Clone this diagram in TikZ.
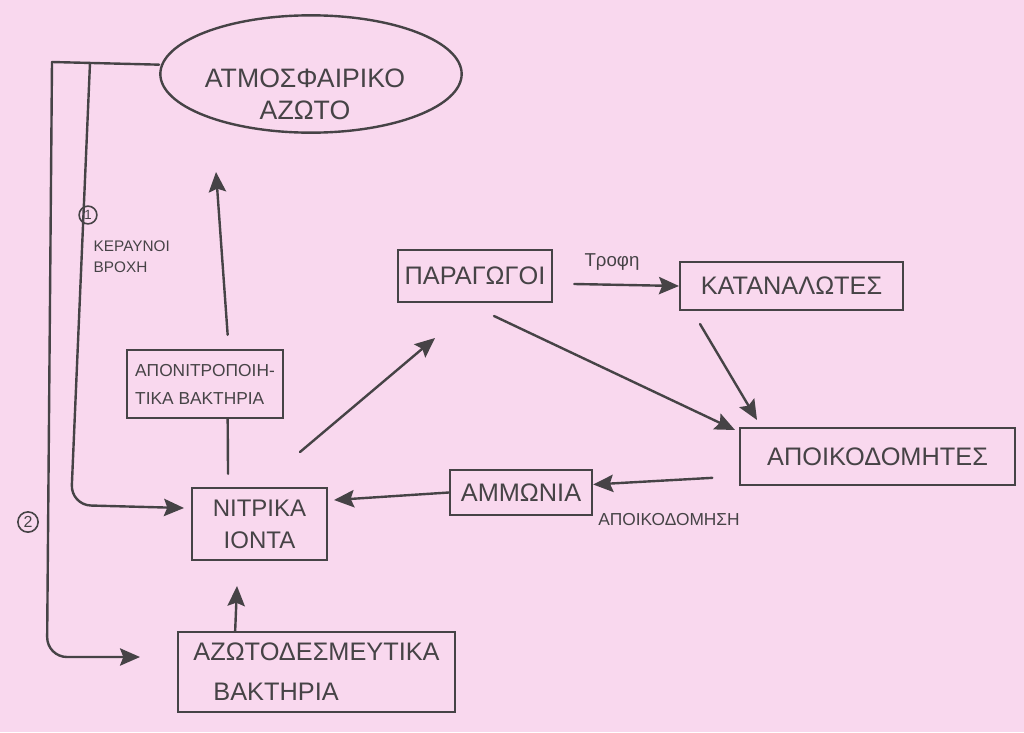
\documentclass[tikz,border=0pt]{standalone}
\usepackage{fontspec}
\setmainfont{Liberation Sans}
\usetikzlibrary{arrows.meta,shapes.geometric}

\begin{document}
\begin{tikzpicture}[
  x=0.75pt,y=-0.75pt,
  link/.style={draw=ink,line width=1.8pt,line cap=round},
  flow/.style={link,-{Stealth[length=15pt,width=13pt,inset=2.5pt]}},
  box/.style={rectangle,draw=ink,line width=1.8pt,inner sep=2pt,
              font=\fontsize{19}{24}\selectfont},
  cloud/.style={ellipse,draw=ink,line width=1.8pt,inner sep=0pt},
  tag/.style={circle,draw=ink,line width=1.2pt,inner sep=1.6pt,
              font=\fontsize{10}{10}\selectfont},
  note/.style={font=\fontsize{13}{17}\selectfont},
  every node/.style={text=ink},
]
\definecolor{paper}{HTML}{F9D8EE}
\definecolor{ink}{HTML}{464346}

\fill[paper] (0,0) rectangle (1024,732);
\useasboundingbox (0,0) rectangle (1024,732);

% the compartments of the cycle
\node[cloud,minimum width=226pt,minimum height=88pt] (air) at (311,74) {};
\node[font=\fontsize{20}{24}\selectfont,align=center] (airtext) at (305,94)
  {ΑΤΜΟΣΦΑΙΡΙΚΟ\\ΑΖΩΤΟ};
\node[box,minimum width=117pt,minimum height=51pt,align=left,
      font=\fontsize{13}{21}\selectfont] (denit) at (205,384)
  {ΑΠΟΝΙΤΡΟΠΟΙΗ-\\ΤΙΚΑ ΒΑΚΤΗΡΙΑ};
\node[box,minimum width=101pt,minimum height=54pt,align=center,
      font=\fontsize{18}{24}\selectfont] (nitr) at (259.5,524)
  {ΝΙΤΡΙΚΑ\\ΙΟΝΤΑ};
\node[box,minimum width=208pt,minimum height=60pt,align=left,
      font=\fontsize{19}{30}\selectfont] (fix) at (316.5,672)
  {ΑΖΩΤΟΔΕΣΜΕΥΤΙΚΑ\\\hspace{15pt}ΒΑΚΤΗΡΙΑ};
\node[box,minimum width=115.5pt,minimum height=39pt] (prod) at (475,276) {ΠΑΡΑΓΩΓΟΙ};
\node[box,minimum width=167pt,minimum height=36pt] (cons) at (791.5,286) {ΚΑΤΑΝΑΛΩΤΕΣ};
\node[box,minimum width=206pt,minimum height=43pt] (decomp) at (877.5,456.5) {ΑΠΟΙΚΟΔΟΜΗΤΕΣ};
\node[box,minimum width=106.5pt,minimum height=34pt] (amm) at (521,492.5) {ΑΜΜΩΝΙΑ};

% free ends of the hand-drawn connectors
\coordinate (topL) at (52,62);
\coordinate (topM) at (90,63);
\coordinate (fixIn) at (140,657);
\coordinate (nitrIn) at (184,508);
\coordinate (airTip) at (216,172);
\coordinate (nitrOut) at (300,452);
\coordinate (prodIn) at (435,338);
\coordinate (prodOut) at (494,316);
\coordinate (decompIn) at (735,430);
\coordinate (consOut) at (700,324);
\coordinate (decompTop) at (757,420);
\coordinate (fixTip) at (237,586);

% fixation from the atmosphere: (1) lightning and rain, (2) bacteria
\draw[link] ([yshift=7pt]air.west) -- (topL);
\draw[flow,rounded corners=15pt] (topL) -- (47,657) -- (fixIn);
\draw[flow,rounded corners=15pt] (topM) -- (71,505) -- (nitrIn);
\node[tag] (one) at (88,215) {1};
\node[tag,font=\fontsize{12}{12}\selectfont] (two) at (28,522) {2};
\node[font=\fontsize{11.5}{16}\selectfont,align=left,anchor=north west]
  (rain) at (89,236) {ΚΕΡΑΥΝΟΙ\\ΒΡΟΧΗ};

\draw[flow] ([xshift=17pt,yshift=10.5pt]denit.north) -- (airTip);
\draw[link] ([xshift=17pt]denit.south) -- ([xshift=-23.6pt,yshift=9.75pt]nitr.north);
\draw[flow] ([xshift=-61pt]fix.north) -- (fixTip);

% food chain and decomposition
\draw[flow] (nitrOut) -- (prodIn);
\draw[flow] ([xshift=15.75pt,yshift=-6pt]prod.east) -- (cons.west);
\node[note,font=\fontsize{14}{17}\selectfont] (food) at (612,262) {Τροφη};
\draw[flow] (prodOut) -- (decompIn);
\draw[flow] (consOut) -- (decompTop);
\draw[flow] ([xshift=-20pt,yshift=-16pt]decomp.west) -- ([yshift=6pt]amm.east);
\node[note] (decay) at (669,520) {ΑΠΟΙΚΟΔΟΜΗΣΗ};
\draw[flow] (amm.west) -- ([xshift=4.5pt,yshift=18pt]nitr.east);
\end{tikzpicture}
\end{document}
